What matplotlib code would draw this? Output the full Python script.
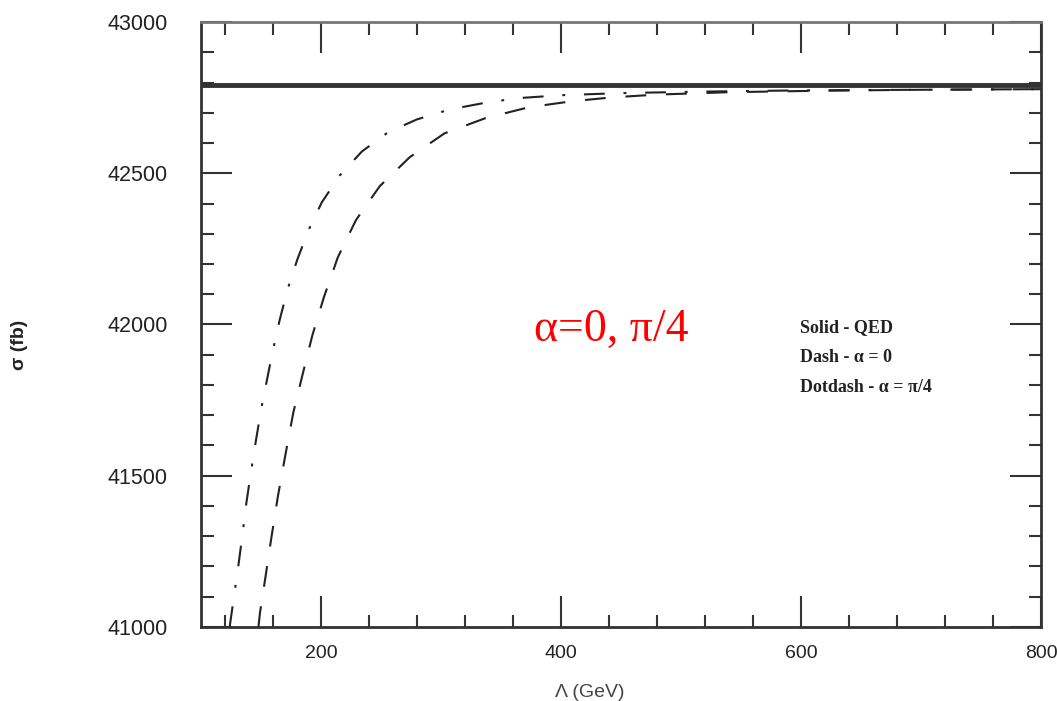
import numpy as np
import matplotlib
matplotlib.use("Agg")
import matplotlib.pyplot as plt
from matplotlib.ticker import MultipleLocator

# values
lam_qed = [100, 800]
sig_qed = [42793, 42793]

lam_dash = [148, 149.2, 153.8, 158.8, 164.2, 170.4, 177.1, 184.6, 192.9, 202.5,
            214.2, 229.2, 249, 274, 303, 337, 373, 409, 443, 480, 540, 620, 700, 800]
sig_dash = [41000, 41045, 41164, 41296, 41432, 41568, 41710, 41832, 41964, 42090,
            42223, 42345, 42457, 42553, 42632, 42682, 42718, 42738, 42751, 42760,
            42768, 42773, 42776, 42778]

lam_dotdash = [124, 127.5, 131.3, 134.6, 137.9, 141.7, 145.8, 150.4, 155, 160,
               165.8, 172.5, 180.4, 189.6, 200.8, 215.8, 234.2, 255.8, 280, 307.5,
               334.2, 363.3, 400, 450, 520, 600, 700, 800]
sig_dotdash = [41000, 41098, 41204, 41303, 41409, 41511, 41614, 41723, 41815, 41914,
               42017, 42119, 42215, 42311, 42404, 42493, 42572, 42635, 42678, 42711,
               42731, 42748, 42758, 42765, 42770, 42774, 42776, 42778]

x_ticks = [200, 400, 600, 800]
y_ticks = [41000, 41500, 42000, 42500, 43000]

legend_lines = ["Solid - QED", "Dash - \u03b1 = 0", "Dotdash - \u03b1 = \u03c0/4"]

fig = plt.figure(figsize=(10.57, 7.01), dpi=100)
ax = fig.add_axes([0.190, 0.1056, 0.795, 0.863])

ink = "#222222"
ax.plot(lam_qed, sig_qed, color="#333333", lw=3.5, solid_capstyle="butt")
ax.plot(lam_dash, sig_dash, color=ink, lw=1.5, dashes=(10, 9.5))
ax.plot(lam_dotdash, sig_dotdash, color=ink, lw=1.5, dashes=(10, 9, 1.4, 9))

ax.set_xlim(100, 800)
ax.set_ylim(41000, 43000)
ax.set_xticks(x_ticks)
ax.set_yticks(y_ticks)
ax.xaxis.set_minor_locator(MultipleLocator(40))
ax.yaxis.set_minor_locator(MultipleLocator(100))

for s in ax.spines.values():
    s.set_linewidth(2.0)
    s.set_color("#333333")
ax.spines["top"].set_color("#777777")

ax.tick_params(which="both", direction="in", top=True, right=True, color="#333333")
ax.tick_params(which="major", length=22, width=1.5)
ax.tick_params(which="minor", length=9, width=1.5)
ax.tick_params(axis="y", which="major", pad=24)
ax.tick_params(axis="x", which="major", pad=13)
for lab in ax.get_yticklabels():
    lab.set_fontfamily("Liberation Sans")
    lab.set_fontsize(15.5)
    lab.set_color(ink)
for lab in ax.get_xticklabels():
    lab.set_fontfamily("Liberation Sans")
    lab.set_fontsize(14)
    lab.set_color(ink)

ax.set_xlabel("\u039b (GeV)", fontsize=14, family="Liberation Sans", color="#444444")
ax.xaxis.set_label_coords(0.463, -0.095)
ax.set_ylabel("\u03c3 (fb)", fontsize=14, family="Liberation Sans", color=ink,
              weight="bold")
ax.yaxis.set_label_coords(-0.206, 0.466)

ax.text(0.396, 0.4727, "\u03b1=0, \u03c0/4", transform=ax.transAxes,
        color="red", fontsize=33, family="Liberation Serif", va="baseline")

for i, t in enumerate(legend_lines):
    ax.text(0.713, 0.4876 - i * 0.0496, t, transform=ax.transAxes,
            fontsize=13, family="Liberation Serif", weight="bold",
            color=ink, va="baseline")

fig.savefig("out.png", dpi=100)
